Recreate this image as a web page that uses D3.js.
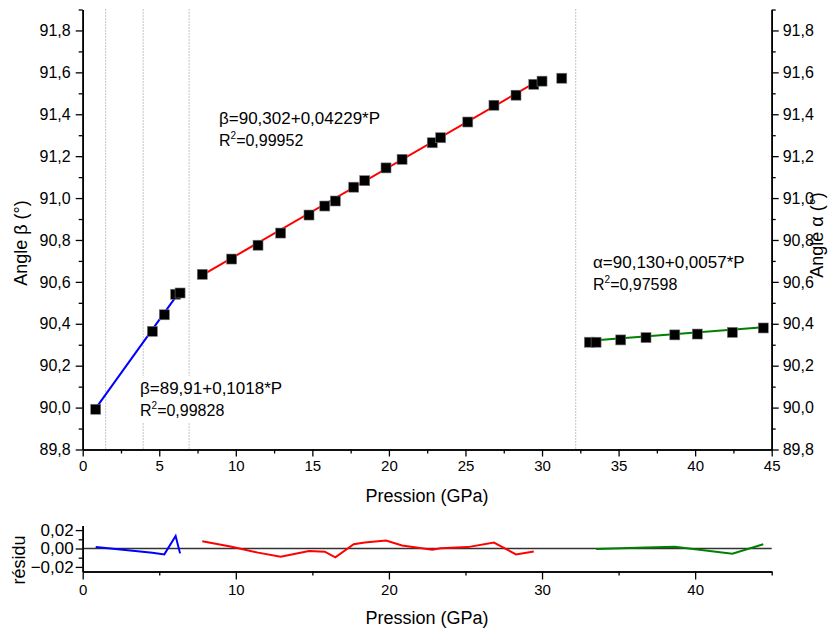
<!DOCTYPE html>
<html>
<head>
<meta charset="utf-8">
<script src="https://cdn.jsdelivr.net/npm/d3@7"></script>
<style>
  html, body { margin: 0; padding: 0; background: #fff; }
  svg { display: block; }
  text { font-family: "Liberation Sans", Arial, sans-serif; fill: #000; }
</style>
</head>
<body>
<svg id="chart" width="828" height="633"></svg>
<script>
// ---------------- data ----------------
const pBlue = [0.85, 4.55, 5.33, 6.07, 6.36];
const betaBlue = [89.992, 90.364, 90.443, 90.541, 90.547];

const pRed = [7.81, 9.73, 11.45, 12.93, 14.78, 15.81, 16.50, 17.70, 18.42, 19.81,
              20.86, 22.83, 23.38, 25.15, 26.86, 28.30, 29.46, 30.00, 31.29];
const betaRed = [90.636, 90.709, 90.775, 90.833, 90.919, 90.962, 90.986, 91.052, 91.083, 91.144,
                 91.185, 91.264, 91.288, 91.363, 91.443, 91.491, 91.543, 91.558, 91.572];

const pGreen = [33.09, 33.53, 35.14, 36.79, 38.67, 40.14, 42.43, 44.45];
const alphaGreen = [90.312, 90.312, 90.323, 90.334, 90.347, 90.351, 90.359, 90.380];

// linear fits: [intercept, slope], fitted range
const fitBlue = [89.91, 0.1018];   const fitBlueRange = [0.85, 6.36];
const fitRed = [90.302, 0.04229];  const fitRedRange = [7.81, 29.46];
const fitGreen = [90.130, 0.0057]; const fitGreenRange = [33.53, 44.45];

// residuals
const resBluP = [0.85, 4.55, 5.33, 6.07, 6.36];
const resBlu = [0.0015, -0.0045, -0.0064, 0.0136, -0.0053];
const resRedP = [7.81, 9.73, 11.45, 12.93, 14.78, 15.81, 16.50, 17.70, 18.42, 19.81,
                 20.86, 22.83, 23.38, 25.15, 26.86, 28.30, 29.46];
const resRed = [0.0079, 0.0020, -0.0045, -0.0089, -0.0027, -0.0035, -0.0096, 0.0047, 0.0065, 0.0086,
                0.0032, -0.0014, 0.0003, 0.0015, 0.0064, -0.0064, -0.0032];
const resGrnP = [33.53, 35.14, 36.79, 38.67, 40.14, 42.43, 44.45];
const resGrn = [-0.0006, 0.0003, 0.0010, 0.0018, -0.0010, -0.0057, 0.0047];

// dotted separators (GPa)
const separators = [1.5, 3.95, 6.95, 32.2];

// tick values
const xMajor = [0, 5, 10, 15, 20, 25, 30, 35, 40, 45];
const xMinor = [2.5, 7.5, 12.5, 17.5, 22.5, 27.5, 32.5, 37.5, 42.5];
const yMajor = [89.8, 90.0, 90.2, 90.4, 90.6, 90.8, 91.0, 91.2, 91.4, 91.6, 91.8];
const yMinor = [89.9, 90.1, 90.3, 90.5, 90.7, 90.9, 91.1, 91.3, 91.5, 91.7, 91.9];
const rxMajor = [0, 10, 20, 30, 40];
const rxMinor = [5, 15, 25, 35, 45];
const ryMajor = [-0.02, 0.00, 0.02];
const ryMinor = [-0.01, 0.01];

// ---------------- drawing ----------------
const svg = d3.select("#chart");
const loc = d3.formatLocale({decimal: ",", thousands: ".", grouping: [3], currency: ["", ""]});
const f1 = loc.format(".1f"), f2 = loc.format(".2f");

const x = d3.scaleLinear().domain([0, 45]).range([82.7, 771.7]);
const y = d3.scaleLinear().domain([89.8, 91.9]).range([449.5, 9.5]);
const yr = d3.scaleLinear().domain([-0.025, 0.025]).range([571.5, 525.5]);

const XTICK = 15, YTICK = 16, RYTICK = 17, LABFONT = 18, EQFONT = 17;

// dotted separators
svg.append("g").selectAll("line").data(separators).join("line")
  .attr("x1", d => x(d)).attr("x2", d => x(d))
  .attr("y1", y(91.9)).attr("y2", y(89.8))
  .attr("stroke", "#8a8a8a").attr("stroke-width", 1).attr("stroke-dasharray", "1,2");

// annotation text boxes (white background hides dotted lines)
function eqn(xp, yp, main, r2) {
  const g = svg.append("g");
  const rect = g.append("rect").attr("fill", "#fff");
  g.append("text").attr("x", xp).attr("y", yp).style("font-size", EQFONT + "px").text(main);
  const t2 = g.append("text").attr("x", xp).attr("y", yp + 22).style("font-size", "16px");
  t2.append("tspan").text("R");
  t2.append("tspan").attr("dy", -7).style("font-size", "10px").text("2");
  t2.append("tspan").attr("dy", 7).text("=" + r2);
  const b = g.node().getBBox();
  rect.attr("x", b.x - 3).attr("y", b.y - 3).attr("width", b.width + 6).attr("height", b.height + 6);
}
eqn(219, 124, "β=90,302+0,04229*P", "0,99952");
eqn(140, 394, "β=89,91+0,1018*P", "0,99828");
eqn(593, 268, "α=90,130+0,0057*P", "0,97598");

// fit lines
function fitLine(fit, range, color) {
  svg.append("line")
    .attr("x1", x(range[0])).attr("y1", y(fit[0] + fit[1] * range[0]))
    .attr("x2", x(range[1])).attr("y2", y(fit[0] + fit[1] * range[1]))
    .attr("stroke", color).attr("stroke-width", 2);
}
fitLine(fitBlue, fitBlueRange, "#0000ff");
fitLine(fitRed, fitRedRange, "#ff0000");
fitLine(fitGreen, fitGreenRange, "#008000");

// markers
function squares(px, py) {
  const S = 10;
  svg.append("g").selectAll("rect").data(px.map((p, i) => [p, py[i]])).join("rect")
    .attr("x", d => x(d[0]) - S / 2).attr("y", d => y(d[1]) - S / 2)
    .attr("width", S).attr("height", S)
    .attr("fill", "#000").attr("stroke", "#777").attr("stroke-width", 0.6);
}
squares(pBlue, betaBlue);
squares(pRed, betaRed);
squares(pGreen, alphaGreen);

// axes helper
function styleAxis(fs) {
  return g => {
    g.selectAll("path").attr("stroke", "#000").attr("stroke-width", 1.6);
    g.selectAll("line").attr("stroke", "#000").attr("stroke-width", 1.3);
    g.selectAll("text").style("font-size", fs + "px").attr("fill", "#000")
      .style("font-family", '"Liberation Sans", Arial, sans-serif');
  };
}

// main bottom axis
svg.append("g").attr("transform", `translate(0,${y(89.8)})`)
  .call(d3.axisBottom(x).tickValues(xMinor).tickSize(4).tickFormat("").tickSizeOuter(0))
  .call(styleAxis(XTICK));
svg.append("g").attr("transform", `translate(0,${y(89.8)})`)
  .call(d3.axisBottom(x).tickValues(xMajor).tickSize(7).tickPadding(4).tickFormat(d3.format("d")).tickSizeOuter(0))
  .call(styleAxis(XTICK));

// main left axis
svg.append("g").attr("transform", `translate(${x(0)},0)`)
  .call(d3.axisLeft(y).tickValues(yMinor).tickSize(4).tickFormat("").tickSizeOuter(0))
  .call(styleAxis(YTICK));
svg.append("g").attr("transform", `translate(${x(0)},0)`)
  .call(d3.axisLeft(y).tickValues(yMajor).tickSize(7).tickPadding(5).tickFormat(f1).tickSizeOuter(0))
  .call(styleAxis(YTICK));

// main right axis
svg.append("g").attr("transform", `translate(${x(45)},0)`)
  .call(d3.axisRight(y).tickValues(yMinor).tickSize(4).tickFormat("").tickSizeOuter(0))
  .call(styleAxis(YTICK));
svg.append("g").attr("transform", `translate(${x(45)},0)`)
  .call(d3.axisRight(y).tickValues(yMajor).tickSize(7).tickPadding(4).tickFormat(f1).tickSizeOuter(0))
  .call(styleAxis(YTICK));

// axis titles
svg.append("text").attr("x", 427).attr("y", 502)
  .attr("text-anchor", "middle").style("font-size", LABFONT + "px").text("Pression (GPa)");
svg.append("text").attr("transform", "translate(27,243) rotate(-90)")
  .attr("text-anchor", "middle").style("font-size", LABFONT + "px").text("Angle β (°)");
svg.append("text").attr("transform", "translate(823,235) rotate(-90)")
  .attr("text-anchor", "middle").style("font-size", LABFONT + "px").text("Angle α (°)");

// ---------------- residual panel ----------------
svg.append("line").attr("x1", x(0)).attr("x2", x(45)).attr("y1", yr(0)).attr("y2", yr(0))
  .attr("stroke", "#333").attr("stroke-width", 1.6);

const rline = d3.line().x(d => x(d[0])).y(d => yr(d[1]));
function resid(px, r, color) {
  svg.append("path").datum(px.map((p, i) => [p, r[i]])).attr("d", rline)
    .attr("fill", "none").attr("stroke", color).attr("stroke-width", 2);
}
resid(resBluP, resBlu, "#0000ff");
resid(resRedP, resRed, "#ff0000");
resid(resGrnP, resGrn, "#008000");

svg.append("g").attr("transform", `translate(0,${yr(-0.025)})`)
  .call(d3.axisBottom(x).tickValues(rxMinor).tickSize(4).tickFormat("").tickSizeOuter(0))
  .call(styleAxis(XTICK));
svg.append("g").attr("transform", `translate(0,${yr(-0.025)})`)
  .call(d3.axisBottom(x).tickValues(rxMajor).tickSize(8).tickPadding(5).tickFormat(d3.format("d")).tickSizeOuter(0))
  .call(styleAxis(XTICK));
svg.append("g").attr("transform", `translate(${x(0)},0)`)
  .call(d3.axisLeft(yr).tickValues(ryMinor).tickSize(4).tickFormat("").tickSizeOuter(0))
  .call(styleAxis(RYTICK));
svg.append("g").attr("transform", `translate(${x(0)},0)`)
  .call(d3.axisLeft(yr).tickValues(ryMajor).tickSize(7).tickPadding(2).tickFormat(f2).tickSizeOuter(0))
  .call(styleAxis(RYTICK));

svg.append("text").attr("x", 427).attr("y", 624)
  .attr("text-anchor", "middle").style("font-size", LABFONT + "px").text("Pression (GPa)");
svg.append("text").attr("transform", "translate(25,560) rotate(-90)")
  .attr("text-anchor", "middle").style("font-size", LABFONT + "px").text("résidu");
</script>
</body>
</html>
